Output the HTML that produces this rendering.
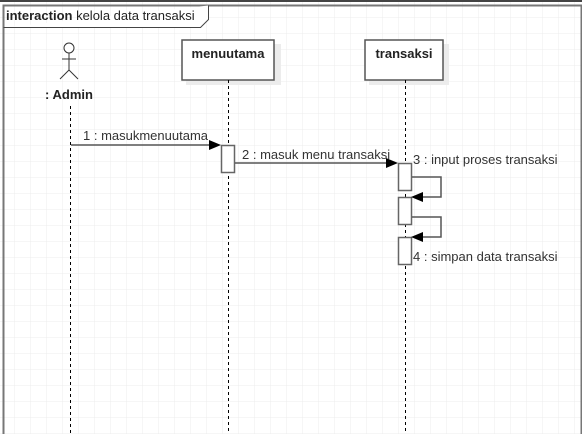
<!DOCTYPE html>
<html><head><style>
html,body{margin:0;padding:0;background:#fff;}
svg{display:block;}
text{font-family:"Liberation Sans",sans-serif;}
</style></head><body>
<svg width="582" height="434" xmlns="http://www.w3.org/2000/svg">
<defs>
<pattern id="g" x="-2" y="1" width="16" height="16" patternUnits="userSpaceOnUse">
<path d="M0 0H16M0 0V16" stroke="#ececec" stroke-width="1" fill="none"/>
</pattern>
</defs>
<rect width="582" height="434" fill="url(#g)"/>
<rect x="0" y="0" width="582" height="2" fill="#444"/>
<path d="M3.5 434V5.5H581.5V434" fill="none" stroke="#777" stroke-width="2"/>
<path d="M3.5 27.5H200.5L208.5 19.5V5.5" fill="#fff" stroke="#444" stroke-width="1"/>
<text x="6" y="20" font-size="13" fill="#222"><tspan font-weight="bold">interaction</tspan> kelola data transaksi</text>
<g stroke="#333" fill="none" stroke-width="1">
<circle cx="69" cy="48" r="5" fill="#fff"/>
<line x1="69" y1="53" x2="69" y2="70"/>
<line x1="62" y1="59" x2="76" y2="59"/>
<line x1="69" y1="70" x2="60" y2="79"/>
<line x1="69" y1="70" x2="78" y2="79"/>
</g>
<text x="69" y="99" font-size="13" font-weight="bold" text-anchor="middle" fill="#222">: Admin</text>
<rect x="186" y="44" width="95" height="41" fill="#ececec"/>
<rect x="182" y="40" width="92" height="40" fill="#fff" stroke="#555" stroke-width="1.5"/>
<text x="228" y="58" font-size="13" font-weight="bold" text-anchor="middle" fill="#222">menuutama</text>
<rect x="369" y="44" width="80" height="41" fill="#ececec"/>
<rect x="365" y="40" width="78" height="40" fill="#fff" stroke="#555" stroke-width="1.5"/>
<text x="404" y="58" font-size="13" font-weight="bold" text-anchor="middle" fill="#222">transaksi</text>
<g stroke="#000" stroke-width="1" stroke-dasharray="3,3">
<line x1="70.5" y1="106" x2="70.5" y2="434"/>
<line x1="228.5" y1="80" x2="228.5" y2="434"/>
<line x1="405.5" y1="80" x2="405.5" y2="434"/>
</g>
<g fill="#fff" stroke="#666" stroke-width="1.5">
<rect x="221.5" y="145.5" width="13" height="27"/>
<rect x="398.5" y="163.5" width="13" height="27"/>
<rect x="398.5" y="197.5" width="13" height="27"/>
<rect x="398.5" y="237.5" width="13" height="27"/>
</g>
<g stroke="#555" stroke-width="1.5" fill="none">
<line x1="71" y1="145" x2="210" y2="145"/>
<line x1="235" y1="163" x2="388" y2="163"/>
<path d="M412 177H441V197H420"/>
<path d="M412 217H441V237H420"/>
</g>
<g fill="#000">
<polygon points="221,145 209,140 209,150"/>
<polygon points="398,163 386,158 386,168"/>
<polygon points="411,197 423,192 423,202"/>
<polygon points="411,237 423,232 423,242"/>
</g>
<g font-size="13" fill="#333">
<text x="83" y="140">1 : masukmenuutama</text>
<text x="242" y="159">2 : masuk menu transaksi</text>
<text x="413" y="164">3 : input proses transaksi</text>
<text x="413" y="261">4 : simpan data transaksi</text>
</g>
</svg>
</body></html>
